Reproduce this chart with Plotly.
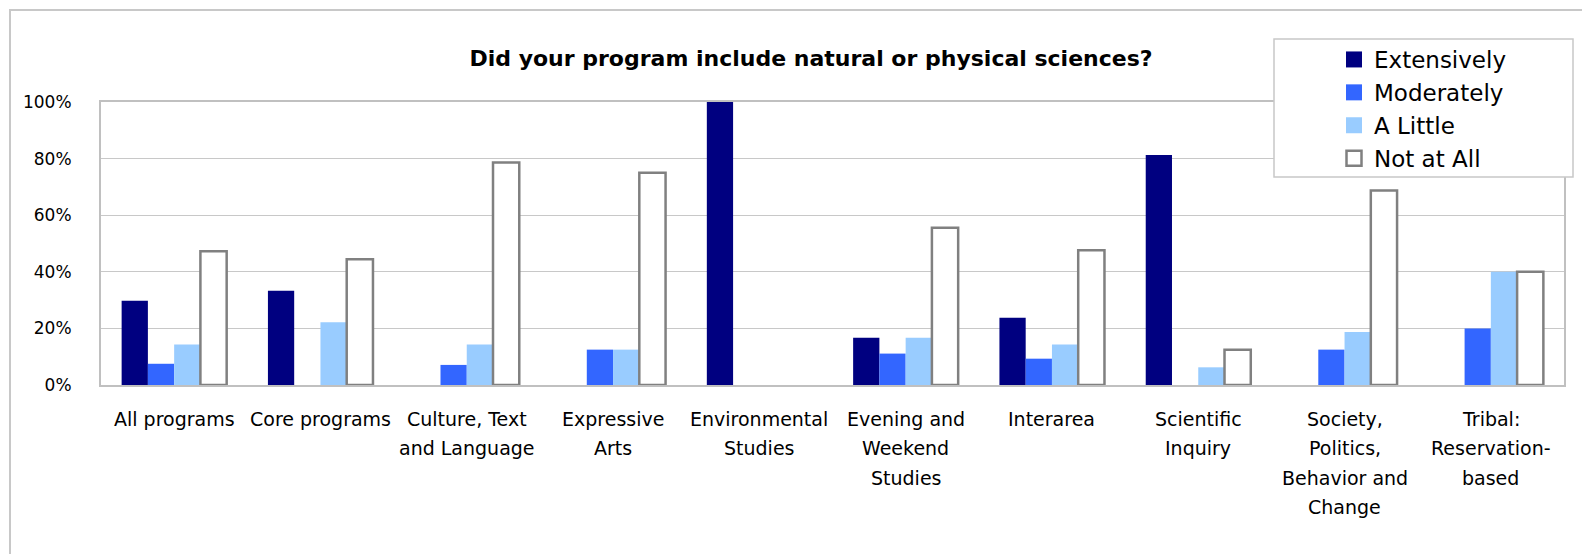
import plotly.graph_objects as go

categories = [
    "All programs", "Core programs", "Culture, Text<br>and Language", "Expressive<br>Arts",
    "Environmental<br>Studies", "Evening and<br>Weekend<br>Studies", "Interarea",
    "Scientific<br>Inquiry", "Society,<br>Politics,<br>Behavior and<br>Change",
    "Tribal:<br>Reservation-<br>based",
]
extensively = [0.298, 0.333, None, None, 1.0, 0.167, 0.238, 0.8125, None, None]
moderately = [0.075, None, 0.071, 0.125, None, 0.111, 0.093, None, 0.125, 0.20]
a_little = [0.143, 0.222, 0.143, 0.125, None, 0.167, 0.143, 0.0625, 0.1875, 0.40]
not_at_all = [0.473, 0.444, 0.786, 0.75, None, 0.556, 0.476, 0.125, 0.6875, 0.40]

series = [
    ("Extensively", extensively, "#000080", None),
    ("Moderately", moderately, "#3366FF", None),
    ("A Little", a_little, "#99CCFF", None),
    ("Not at All", not_at_all, "#FFFFFF", "#808080"),
]

FONT = "DejaVu Sans"
OFF = 8  # default page body margin
W, H = 1590 - OFF, 554 - OFF
# plot area in page pixels: left 101, right 1564, top 102, bottom 385
ML = 101 - OFF
MT = 102 - OFF
MR = W - (1564 - OFF)
MB = H - (385 - OFF)
PW = W - ML - MR
PH = H - MT - MB


def px_x(p):
    return (p - OFF - ML) / PW


def px_y(p):
    return (MT + PH - (p - OFF)) / PH


fig = go.Figure()
x_idx = list(range(len(categories)))
for name, vals, color, line in series:
    fig.add_trace(go.Bar(
        x=x_idx, y=vals, name=name, legendgroup=name, showlegend=False,
        marker=dict(color=color,
                    line=dict(color=line if line else color, width=2.5 if line else 0)),
        hoverinfo="skip",
    ))
# legend entries with larger square symbols
for name, vals, color, line in series:
    fig.add_trace(go.Scatter(
        x=[None], y=[None], mode="markers", name=name, legendgroup=name,
        marker=dict(symbol="square", size=17 if not line else 15, color=color,
                    line=dict(color=line if line else color, width=2.5 if line else 0)),
        hoverinfo="skip",
    ))

annotations = []
for i, lab in enumerate(categories):
    for j, line in enumerate(lab.split("<br>")):
        annotations.append(dict(
            x=i, y=0, xref="x", yref="y", text=line, showarrow=False,
            yshift=-(34 + j * 29.3), yanchor="middle", xanchor="center",
            font=dict(family=FONT, size=19, color="#000000"),
        ))

shapes = [
    dict(type="rect", xref="paper", yref="paper",
         x0=px_x(10), x1=px_x(1620), y0=px_y(10), y1=px_y(700),
         line=dict(color="#C8C8C8", width=2), fillcolor="rgba(0,0,0,0)", layer="below"),
    dict(type="rect", xref="paper", yref="paper",
         x0=px_x(1274), x1=px_x(1573), y0=px_y(39), y1=px_y(177),
         line=dict(color="#C8C8C8", width=1.5), fillcolor="#FFFFFF", layer="above"),
]

fig.update_layout(
    width=W, height=H,
    margin=dict(l=ML, r=MR, t=MT, b=MB, pad=0),
    paper_bgcolor="#FFFFFF", plot_bgcolor="#FFFFFF",
    barmode="group", bargap=0.282, bargroupgap=0,
    title=dict(text="<b>Did your program include natural or physical sciences?</b>",
               x=(811 - OFF) / W, xref="container", xanchor="center",
               y=1 - (58 - OFF) / H, yref="container", yanchor="middle",
               font=dict(family=FONT, size=22, color="#000000")),
    font=dict(family=FONT, size=18, color="#000000"),
    showlegend=True,
    legend=dict(x=px_x(1334), y=px_y(38), xanchor="left", yanchor="top",
                bgcolor="rgba(0,0,0,0)", borderwidth=0,
                font=dict(family=FONT, size=23, color="#000000"),
                tracegroupgap=4, traceorder="normal"),
    shapes=shapes,
    annotations=annotations,
)
fig.update_xaxes(range=[-0.5, len(categories) - 0.5], showticklabels=False,
                 showgrid=False, zeroline=False, showline=True, mirror=True,
                 linecolor="#C0C0C0", linewidth=2, ticks="")
fig.update_yaxes(range=[0, 1], dtick=0.2, tick0=0, tickformat=".0%",
                 showgrid=True, gridcolor="#C8C8C8", gridwidth=1, zeroline=False,
                 showline=True, mirror=True, linecolor="#C0C0C0", linewidth=2,
                 ticks="", ticklabelstandoff=24,
                 tickfont=dict(family=FONT, size=17, color="#000000"))

fig.write_html("out.html")
